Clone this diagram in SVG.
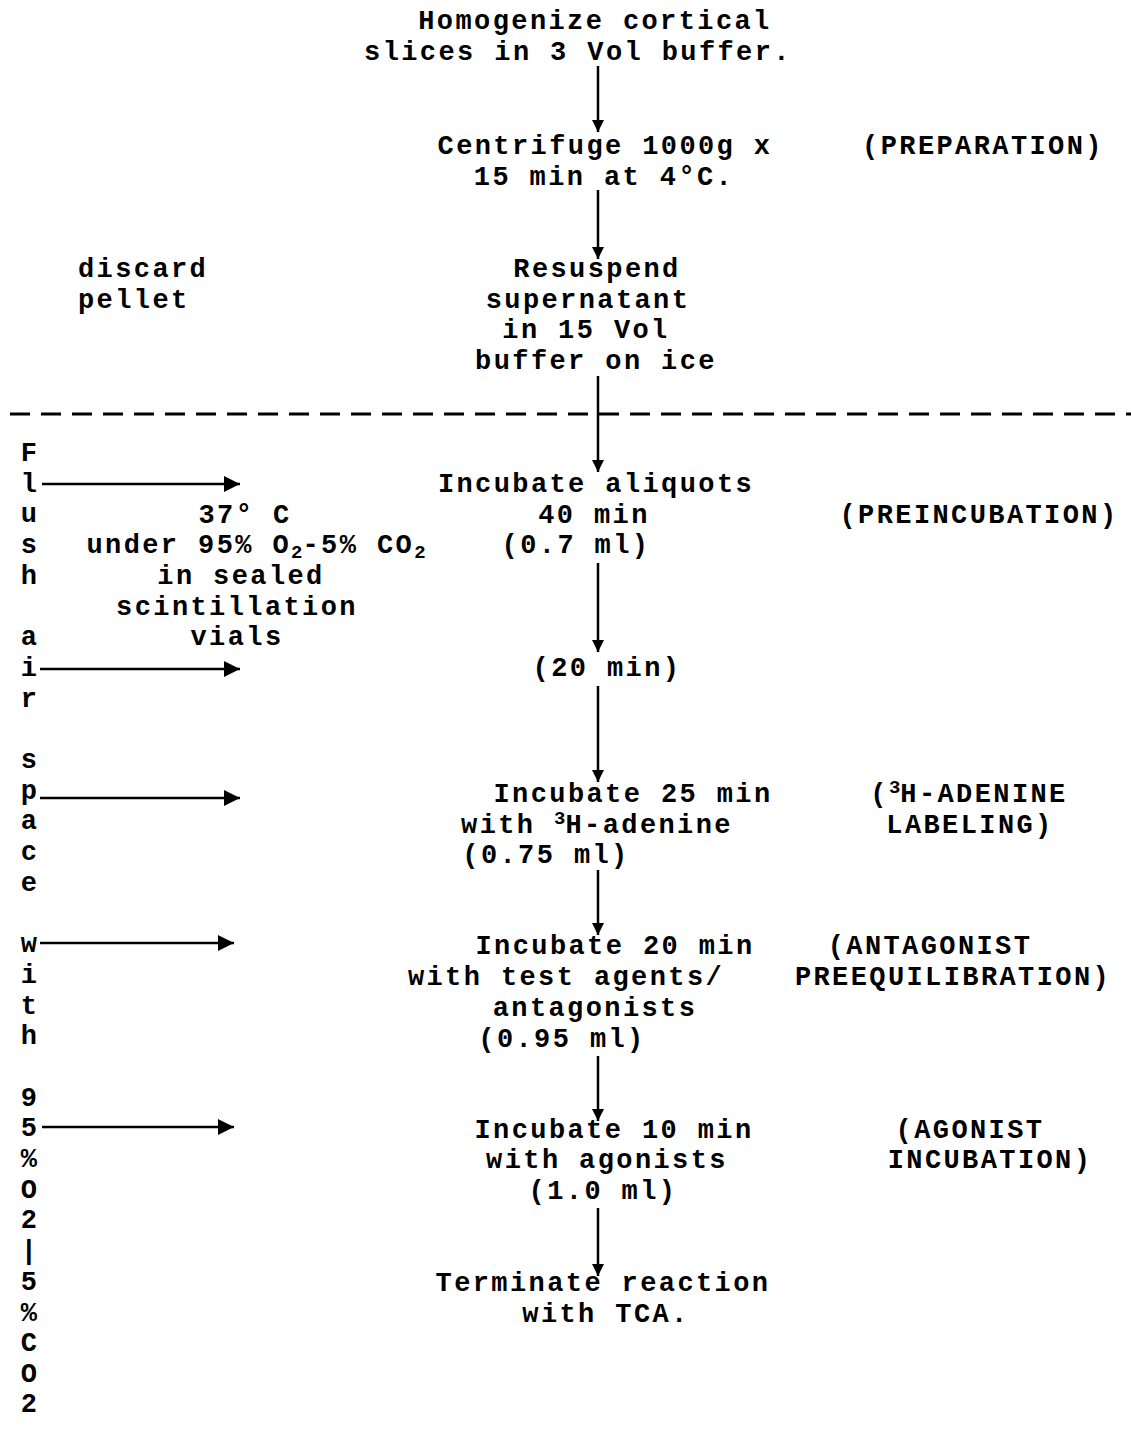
<svg xmlns="http://www.w3.org/2000/svg" width="1131" height="1429" viewBox="0 0 1131 1429">
<style>
text{font-family:"Liberation Mono","DejaVu Sans Mono",monospace;font-size:27px;letter-spacing:2.4px;font-weight:bold;fill:#000}
.m{text-anchor:middle}
.sub{font-size:19px;letter-spacing:0}
.ln{stroke:#000;stroke-width:2.5;fill:none}
.dash{stroke:#000;stroke-width:3;stroke-dasharray:20 11;fill:none}
</style>
<defs>
<marker id="ah" viewBox="0 0 10 10" refX="10" refY="5" markerWidth="16" markerHeight="12" markerUnits="userSpaceOnUse" orient="auto">
<path d="M0,0 L10,5 L0,10 Z" fill="#000"/>
</marker>
<marker id="ahv" viewBox="0 0 10 10" refX="10" refY="5" markerWidth="19" markerHeight="16" markerUnits="userSpaceOnUse" orient="auto">
<path d="M0,0 L10,5 L0,10 Z" fill="#000"/>
</marker>
</defs>
<rect width="1131" height="1429" fill="#fff"/>

<g id="n-homogenize"><text class="m" x="595" y="29">Homogenize cortical</text><text class="m" x="578" y="60">slices in 3 Vol buffer.</text></g>
<g id="n-centrifuge"><text class="m" x="605" y="154">Centrifuge 1000g x</text><text class="m" x="604" y="185">15 min at 4°C.</text></g>
<g id="l-preparation"><text class="m" x="983" y="154">(PREPARATION)</text></g>
<g id="n-discard"><text x="78" y="277">discard</text><text x="78" y="308">pellet</text></g>
<g id="n-resuspend"><text class="m" x="597" y="277">Resuspend</text><text class="m" x="588" y="308">supernatant</text><text class="m" x="586" y="338">in 15 Vol</text><text class="m" x="596" y="369">buffer on ice</text></g>

<g id="divider"><line class="dash" x1="10" y1="414" x2="1131" y2="414"/></g>

<g id="n-flush">
<text class="m" x="30" y="461">F</text>
<text class="m" x="30" y="492">l</text>
<text class="m" x="30" y="522">u</text>
<text class="m" x="30" y="553">s</text>
<text class="m" x="30" y="584">h</text>
<text class="m" x="30" y="645">a</text>
<text class="m" x="30" y="676">i</text>
<text class="m" x="30" y="707">r</text>
<text class="m" x="30" y="768">s</text>
<text class="m" x="30" y="799">p</text>
<text class="m" x="30" y="829">a</text>
<text class="m" x="30" y="860">c</text>
<text class="m" x="30" y="891">e</text>
<text class="m" x="30" y="952">w</text>
<text class="m" x="30" y="983">i</text>
<text class="m" x="30" y="1014">t</text>
<text class="m" x="30" y="1044">h</text>
<text class="m" x="30" y="1106">9</text>
<text class="m" x="30" y="1136">5</text>
<text class="m" x="30" y="1167">%</text>
<text class="m" x="30" y="1198">O</text>
<text class="m" x="30" y="1228">2</text>
<text class="m" x="30" y="1259">|</text>
<text class="m" x="30" y="1290">5</text>
<text class="m" x="30" y="1321">%</text>
<text class="m" x="30" y="1351">C</text>
<text class="m" x="30" y="1382">O</text>
<text class="m" x="30" y="1412">2</text>
</g>

<g id="n-conditions"><text class="m" x="245" y="523">37° C</text><text class="m" x="256" y="553">under 95% O<tspan class="sub" dy="5">2</tspan><tspan dy="-5">-5% CO</tspan><tspan class="sub" dy="5">2</tspan></text><text class="m" x="241" y="584">in sealed</text><text class="m" x="237" y="615">scintillation</text><text class="m" x="237" y="645">vials</text></g>

<g id="n-incubate-aliquots"><text class="m" x="596" y="492">Incubate aliquots</text><text class="m" x="594" y="523">40 min</text><text class="m" x="576" y="553">(0.7 ml)</text></g>
<g id="l-preincubation"><text class="m" x="979" y="523">(PREINCUBATION)</text></g>
<g id="n-20min"><text class="m" x="607" y="676">(20 min)</text></g>
<g id="n-incubate-25"><text class="m" x="633" y="802">Incubate 25 min</text><text class="m" x="597" y="833">with <tspan class="sub" dy="-9">3</tspan><tspan dy="9">H-adenine</tspan></text><text class="m" x="546" y="863">(0.75 ml)</text></g>
<g id="l-labeling"><text class="m" x="969" y="802">(<tspan class="sub" dy="-9">3</tspan><tspan dy="9">H-ADENINE</tspan></text><text class="m" x="970" y="833">LABELING)</text></g>
<g id="n-incubate-20"><text class="m" x="615" y="954">Incubate 20 min</text><text class="m" x="566" y="985">with test agents/</text><text class="m" x="595" y="1016">antagonists</text><text class="m" x="562" y="1047">(0.95 ml)</text></g>
<g id="l-antagonist"><text class="m" x="930" y="954">(ANTAGONIST</text><text class="m" x="953" y="985">PREEQUILIBRATION)</text></g>
<g id="n-incubate-10"><text class="m" x="614" y="1138">Incubate 10 min</text><text class="m" x="607" y="1168">with agonists</text><text class="m" x="603" y="1199">(1.0 ml)</text></g>
<g id="l-agonist"><text class="m" x="970" y="1138">(AGONIST</text><text class="m" x="990" y="1168">INCUBATION)</text></g>
<g id="n-terminate"><text class="m" x="603" y="1291">Terminate reaction</text><text class="m" x="606" y="1322">with TCA.</text></g>

<g id="connectors">
<line class="ln" x1="598" y1="66" x2="598" y2="132" marker-end="url(#ah)"/>
<line class="ln" x1="598" y1="190" x2="598" y2="259" marker-end="url(#ah)"/>
<line class="ln" x1="598" y1="376" x2="598" y2="472" marker-end="url(#ah)"/>
<line class="ln" x1="598" y1="563" x2="598" y2="652" marker-end="url(#ah)"/>
<line class="ln" x1="598" y1="686" x2="598" y2="782" marker-end="url(#ah)"/>
<line class="ln" x1="598" y1="870" x2="598" y2="935" marker-end="url(#ah)"/>
<line class="ln" x1="598" y1="1056" x2="598" y2="1121" marker-end="url(#ah)"/>
<line class="ln" x1="598" y1="1208" x2="598" y2="1276" marker-end="url(#ah)"/>
<line class="ln" x1="42" y1="484" x2="240" y2="484" marker-end="url(#ahv)"/>
<line class="ln" x1="40" y1="669" x2="240" y2="669" marker-end="url(#ahv)"/>
<line class="ln" x1="40" y1="798" x2="240" y2="798" marker-end="url(#ahv)"/>
<line class="ln" x1="40" y1="943" x2="234" y2="943" marker-end="url(#ahv)"/>
<line class="ln" x1="42" y1="1127" x2="234" y2="1127" marker-end="url(#ahv)"/>
</g>
</svg>
